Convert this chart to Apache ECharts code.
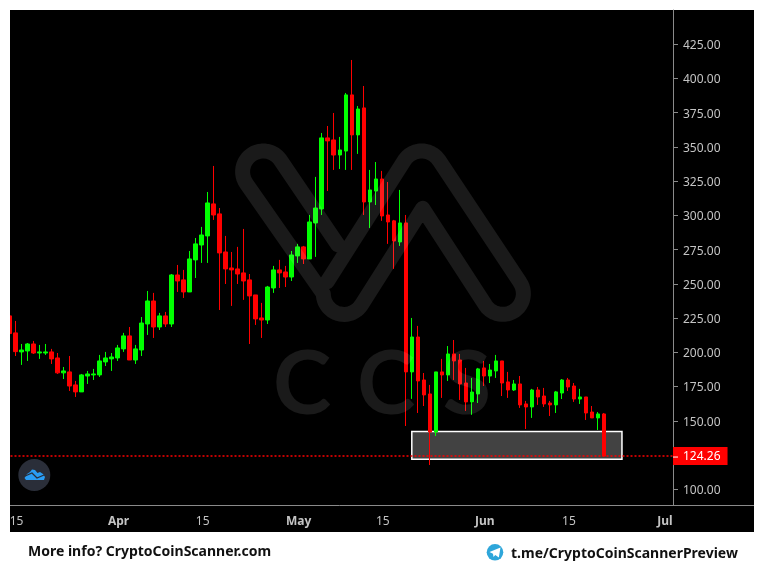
<!DOCTYPE html>
<html lang="en">
<head>
    <meta charset="UTF-8">
    <title>CryptoCoinScanner chart</title>
    <script src="https://cdn.jsdelivr.net/npm/echarts@6/dist/echarts.min.js"></script>
    <style>
        html, body { margin: 0; padding: 0; background: #fff; }
    </style>
</head>
<body>
<div id="main" style="width: 764px; height: 580px;"></div>
<script type="text/javascript">
    // open, close, low, high per day, the first candle is 14 March
    var candles = [
        [226.6,213.7,213.7,226.6],[214.2,200.5,197.3,222.9],[200.3,201.7,190.8,206.1],[201.0,206.1,193.7,206.8],
        [206.1,199.5,198.8,208.3],[199.5,200.3,195.2,205.4],[199.5,200.3,198.1,206.1],[200.3,195.2,191.5,202.5],
        [195.9,185.0,184.2,199.5],[185.0,186.4,180.5,189.3],[185.7,175.4,171.8,197.3],[176.2,171.1,167.4,179.1],
        [171.1,183.5,171.1,184.2],[182.7,184.2,176.9,186.4],[183.5,184.2,179.8,187.9],[183.5,193.7,182.0,198.1],
        [193.0,195.9,190.0,200.3],[195.2,196.6,186.4,199.5],[195.9,203.2,193.7,205.4],[202.5,212.0,200.3,214.2],
        [212.0,194.4,194.4,218.5],[194.4,202.5,191.5,205.4],[201.7,221.4,197.3,225.8],[220.7,237.5,212.7,244.8],
        [237.5,218.5,210.5,243.4],[218.5,226.6,216.3,228.8],[226.6,220.7,218.5,229.5],[220.7,256.5,218.5,257.2],
        [256.5,252.1,244.1,263.8],[252.9,244.1,239.7,260.2],[244.1,268.2,244.1,274.0],[267.5,279.2,254.3,283.5],
        [278.4,285.7,265.3,291.6],[285.0,309.1,265.3,317.1],[308.4,300.3,296.7,336.1],[301.1,272.6,230.9,305.4],
        [273.3,260.9,249.9,285.0],[261.6,260.2,233.9,273.3],[260.9,257.2,249.9,277.0],[258.0,252.1,238.3,290.1],
        [252.9,241.2,206.1,257.2],[241.9,224.4,220.0,241.9],[225.1,223.6,210.5,236.1],[223.6,247.7,220.7,248.5],
        [247.0,260.2,243.4,263.1],[260.2,258.0,247.0,267.5],[258.7,255.0,247.7,263.1],[255.0,271.1,252.1,274.0],
        [270.4,277.0,265.3,279.2],[277.0,268.2,264.5,277.7],[268.2,295.2,268.2,300.3],[294.5,305.4,269.7,328.1],
        [304.7,356.6,300.3,360.2],[356.6,354.4,317.8,365.3],[355.1,344.1,333.2,374.8],[344.1,347.8,333.9,357.3],
        [347.0,388.0,333.2,389.4],[388.0,358.8,333.2,413.5],[358.8,377.7,344.9,379.9],[378.5,309.8,300.3,394.5],
        [309.8,318.6,290.8,333.2],[317.8,326.6,307.6,339.0],[326.6,299.6,296.0,332.5],[300.3,295.2,279.2,324.4],
        [296.0,281.3,260.9,296.7],[280.6,294.5,277.7,318.6],[294.5,185.7,146.2,300.3],[185.7,211.2,166.0,225.1],
        [211.2,179.1,155.7,219.3],[179.8,168.9,160.8,184.9],[169.6,141.8,117.7,176.2],[141.8,185.7,138.9,185.7],
        [185.7,183.5,166.7,195.2],[183.5,198.8,179.1,204.6],[198.8,193.7,179.8,209.0],[194.4,176.9,165.2,198.8],
        [177.6,163.8,157.2,188.6],[163.8,171.0,154.3,181.3],[169.6,187.9,163.0,188.6],[188.6,182.7,175.4,193.7],
        [182.7,187.1,177.6,191.5],[186.4,193.7,181.3,198.1],[193.7,177.6,168.1,193.7],[178.4,172.5,166.7,185.7],
        [172.5,176.9,171.8,179.8],[176.9,161.6,159.4,182.7],[162.3,160.1,144.0,164.5],[160.1,172.5,152.1,173.3],
        [172.5,167.4,161.6,174.7],[168.1,162.3,160.1,174.0],[163.0,161.6,153.5,164.5],[161.6,171.1,155.7,171.8],
        [170.3,179.8,165.9,180.5],[179.8,174.7,171.8,181.3],[175.4,165.9,163.8,177.6],[165.9,167.4,162.3,173.3],
        [167.4,155.7,150.6,167.4],[156.4,152.1,152.1,160.8],[152.1,155.0,143.3,156.4],[155.0,124.26,124.26,155.7]
    ];
    var currentPrice = 124.26;
    var yTicks = [100, 150, 175, 200, 225, 250, 275, 300, 325, 350, 375, 400, 425];
    var tickDays = ['03-15', '04-01', '04-15', '05-01', '05-15', '06-01', '06-15', '07-01'];
    var tickLabels = ['15', 'Apr', '15', 'May', '15', 'Jun', '15', 'Jul'];
    var zoneDays = ['05-20', '06-24'];
    var zonePrices = [142.2, 121.9];

    var UP = '#00ff00', DOWN = '#ff0000', AXIS = '#8a8a8a', TEXT = '#c4c4c4';
    var FONT = '"Noto Sans"';

    // one category per day, the axis runs a bit past 1 July
    var days = [];
    for (var i = 0; i < 111; i++) {
        var d = new Date(Date.UTC(2019, 2, 14 + i));
        days.push(('0' + (d.getUTCMonth() + 1)).slice(-2) + '-' + ('0' + d.getUTCDate()).slice(-2));
    }

    function isTickDay(index, value) {
        return tickDays.indexOf(value) >= 0;
    }

    function arc(cx, cy, r, from, to) {
        var pts = [];
        for (var k = 0; k <= 24; k++) {
            var a = (from + (to - from) * k / 24) * Math.PI / 180;
            pts.push([cx + r * Math.cos(a), cy + r * Math.sin(a)]);
        }
        return pts;
    }

    // watermark ribbon
    var ribbon = [[338, 245]]
        .concat(arc(263.3, 171.7, 20.7, -34.5, -214.5))
        .concat(arc(344, 293.7, 20.7, 180, 34.5))
        .concat([[422.7, 208.3]])
        .concat(arc(502.7, 293.7, 20.7, 145.5, -34.5))
        .concat(arc(421.7, 171.7, 20.7, -34.5, -145.5))
        .concat([[327, 282]]);

    var WM = 'rgba(255,255,255,0.1)';
    function wmLetter(text, x) {
        return {
            type: 'text', z: 10, silent: true, x: x, y: 385.5,
            style: { text: text, fill: WM, font: 'bold 88px Lato', align: 'center', verticalAlign: 'middle' }
        };
    }

    var chart = echarts.init(document.getElementById('main'));
    chart.setOption({
        animation: false,
        backgroundColor: '#fff',
        grid: { left: 6.5, top: 10, width: 666.5, height: 495 },
        xAxis: {
            type: 'category',
            data: days,
            axisLine: { lineStyle: { color: AXIS } },
            axisTick: { alignWithLabel: true, interval: isTickDay, length: 4, lineStyle: { color: AXIS } },
            axisLabel: {
                interval: isTickDay,
                margin: 11,
                formatter: function (v) {
                    var label = tickLabels[tickDays.indexOf(v)];
                    return label === '15' ? '{d|' + label + '}' : '{m|' + label + '}';
                },
                rich: {
                    d: { color: TEXT, fontFamily: FONT, fontSize: 12, padding: [0, 0, 0, 2] },
                    m: { color: TEXT, fontFamily: FONT, fontSize: 12, fontWeight: 'bold', padding: [0, 0, 0, 2] }
                }
            },
            splitLine: { show: false }
        },
        yAxis: {
            type: 'value',
            position: 'right',
            min: 88.5,
            max: 450,
            axisLine: { show: true, lineStyle: { color: AXIS } },
            axisTick: { show: true, customValues: yTicks, length: 5, lineStyle: { color: AXIS } },
            axisLabel: {
                customValues: yTicks,
                margin: 10,
                formatter: function (v) { return '{v|' + v.toFixed(2) + '}'; },
                rich: {
                    v: { color: TEXT, fontFamily: FONT, fontSize: 12, padding: [3, 0, 0, 0] }
                }
            },
            splitLine: { show: false }
        },
        series: [{
            type: 'candlestick',
            data: candles,
            barWidth: 4,
            itemStyle: { color: UP, color0: DOWN, borderColor: UP, borderColor0: DOWN, borderWidth: 1 },
            markArea: {
                silent: true,
                itemStyle: { color: 'rgba(255,255,255,0.26)', borderColor: '#fff', borderWidth: 1.5 },
                data: [[
                    { xAxis: zoneDays[0], yAxis: zonePrices[0] },
                    { xAxis: zoneDays[1], yAxis: zonePrices[1] }
                ]]
            },
            markLine: {
                silent: true,
                symbol: 'none',
                precision: 2,
                lineStyle: { color: DOWN, type: [2, 2], width: 1.5 },
                label: {
                    position: 'end',
                    distance: 0,
                    backgroundColor: DOWN,
                    padding: [3, 7, 1, 0],
                    formatter: function () { return '{t|}{v|' + currentPrice.toFixed(2) + '}'; },
                    rich: {
                        t: { width: 5, height: 1, backgroundColor: '#fff' },
                        v: { color: '#fff', fontFamily: FONT, fontSize: 12, padding: [0, 0, 0, 5], lineHeight: 14 }
                    }
                },
                data: [{ yAxis: currentPrice }]
            }
        }],
        graphic: [
            // black chart panel
            { type: 'rect', z: -1, silent: true, shape: { x: 10, y: 10, width: 744, height: 522 }, style: { fill: '#000' } },
            // axis line runs on under the price labels
            { type: 'line', z: 1, silent: true, shape: { x1: 673, y1: 505.5, x2: 754, y2: 505.5 }, style: { stroke: AXIS, lineWidth: 1 } },
            // white margin on the left cuts the first candle
            { type: 'rect', z: 100, silent: true, shape: { x: 0, y: 0, width: 10, height: 580 }, style: { fill: '#fff' } },
            // watermark
            { type: 'polyline', z: 10, silent: true, shape: { points: ribbon }, style: { stroke: WM, fill: null, lineWidth: 15, lineJoin: 'round', lineCap: 'round' } },
            wmLetter('C', 302),
            wmLetter('C', 386),
            wmLetter('S', 467),
            // chart badge
            { type: 'circle', z: 5, silent: true, shape: { cx: 34.3, cy: 475, r: 16 }, style: { fill: '#2a2e39' } },
            { type: 'polygon', z: 6, silent: true, shape: { points: [[24.5, 478], [27, 474], [30, 472], [32, 469.5], [35, 470], [37.5, 473], [40, 472], [43, 474], [45, 477], [44, 480], [26, 480]] }, style: { fill: '#2a9df4' } },
            { type: 'polyline', z: 7, silent: true, shape: { points: [[24, 476.5], [32, 473], [37, 478], [44, 475]] }, style: { stroke: '#2a2e39', fill: null, lineWidth: 1.3 } },
            // footer
            { type: 'text', z: 5, silent: true, x: 28, y: 552, style: { text: 'More info? CryptoCoinScanner.com', fill: '#111', font: 'bold 14px "Noto Sans"', verticalAlign: 'middle' } },
            { type: 'text', z: 5, silent: true, x: 511, y: 554, style: { text: 't.me/CryptoCoinScannerPreview', fill: '#111', font: 'bold 14px "Noto Sans"', verticalAlign: 'middle' } },
            { type: 'circle', z: 5, silent: true, shape: { cx: 495, cy: 552.3, r: 8.3 }, style: { fill: '#2ea6da' } },
            { type: 'polygon', z: 6, silent: true, shape: { points: [[489.5, 552], [500.5, 547.5], [498.8, 557.5], [495.3, 555], [493.5, 557], [493, 553.8]] }, style: { fill: '#fff' } }
        ]
    });
</script>
</body>
</html>
